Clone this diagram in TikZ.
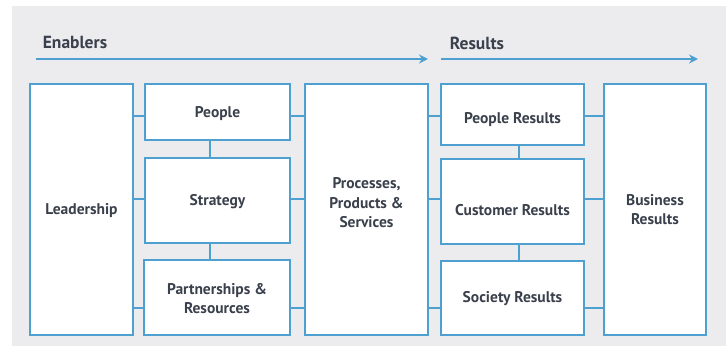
\documentclass[tikz,border=0pt]{standalone}
\usepackage{fontspec}
\setmainfont{PT Sans}
\usetikzlibrary{arrows.meta}
\definecolor{frame}{RGB}{78,160,208}
\definecolor{ink}{RGB}{58,64,76}
\definecolor{panel}{RGB}{236,236,239}
\begin{document}
\begin{tikzpicture}[x=1pt,y=-1pt,
  box/.style={draw=frame,line width=2.4pt,fill=white},
  caption/.style={text=ink,font=\bfseries\fontsize{15.5}{19.5}\selectfont,align=center},
  link/.style={draw=frame,line width=2pt},
  flow/.style={draw=frame,line width=2.4pt,-{Stealth[length=9pt,width=9pt,inset=3pt]}},
  head/.style={text=ink,font=\bfseries\fontsize{17.5}{20}\selectfont}]
\useasboundingbox (0,0) rectangle (726,352);
\fill[white] (0,0) rectangle (726,352);
\fill[panel] (12,6) rectangle (726,346);

% headings and flow arrows
\node[head] (en) at (75,43) {Enablers};
\node[head] (re) at (477,43) {Results};
\coordinate (a1) at (36,59);
\coordinate (a2) at (428,59);
\coordinate (b1) at (441,59);
\coordinate (b2) at (698,59);
\draw[flow] (a1) -- (a2);
\draw[flow] (b1) -- (b2);

% enabler boxes
\node[box,minimum width=103,minimum height=251] (lead) at (81.5,209.5) {};
\node[box,minimum width=145,minimum height=56] (ppl) at (217.5,112) {};
\node[box,minimum width=145,minimum height=85] (str) at (217.5,200.5) {};
\node[box,minimum width=146,minimum height=75] (par) at (217,297.5) {};
\node[box,minimum width=123,minimum height=251] (proc) at (366.5,209.5) {};

% result boxes
\node[box,minimum width=143,minimum height=61] (pr) at (512.5,114.5) {};
\node[box,minimum width=143,minimum height=85] (cr) at (512.5,201.5) {};
\node[box,minimum width=143,minimum height=74] (sr) at (512.5,298) {};
\node[box,minimum width=102,minimum height=251] (br) at (655,209.5) {};

% box captions
\node[caption] (leadt) at (81.5,211) {Leadership};
\node[caption] (pplt) at (217.5,113.5) {People};
\node[caption] (strt) at (217.5,201.5) {Strategy};
\node[caption] (part) at (217,298.5) {Partnerships \&\\Resources};
\node[caption] (proct) at (366.5,203) {Processes,\\Products \&\\Services};
\node[caption] (prt) at (512.5,120) {People Results};
\node[caption] (crt) at (512.5,210) {Customer Results};
\node[caption] (srt) at (512.5,298.5) {Society Results};
\node[caption] (brt) at (655,209.5) {Business\\Results};

% connectors
\draw[link] (lead.east |- 0,116) -- (ppl.west |- 0,116);
\draw[link] (lead.east |- 0,199) -- (str.west |- 0,199);
\draw[link] (lead.east |- 0,308) -- (par.west |- 0,308);
\draw[link] (ppl.east |- 0,116) -- (proc.west |- 0,116);
\draw[link] (str.east |- 0,199) -- (proc.west |- 0,199);
\draw[link] (par.east |- 0,308) -- (proc.west |- 0,308);
\draw[link] (ppl.south -| 210,0) -- (str.north -| 210,0);
\draw[link] (str.south -| 210,0) -- (par.north -| 210,0);
\draw[link] (proc.east |- 0,116) -- (pr.west |- 0,116);
\draw[link] (proc.east |- 0,199) -- (cr.west |- 0,199);
\draw[link] (proc.east |- 0,308) -- (sr.west |- 0,308);
\draw[link] (pr.east |- 0,116) -- (br.west |- 0,116);
\draw[link] (cr.east |- 0,199) -- (br.west |- 0,199);
\draw[link] (sr.east |- 0,308) -- (br.west |- 0,308);
\draw[link] (pr.south -| 519,0) -- (cr.north -| 519,0);
\draw[link] (cr.south -| 519,0) -- (sr.north -| 519,0);
\end{tikzpicture}
\end{document}
